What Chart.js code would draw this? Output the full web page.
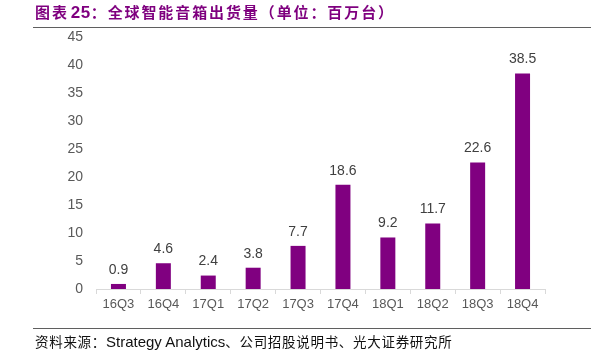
<!DOCTYPE html>
<html>
<head>
<meta charset="utf-8">
<script src="https://cdn.jsdelivr.net/npm/chart.js@4/dist/chart.umd.min.js"></script>
<style>
  html, body { margin: 0; padding: 0; background: #fff; }
  #wrap { position: relative; width: 610px; height: 355px; overflow: hidden; }
  #c { position: absolute; left: 0; top: 0; }
  .title { position: absolute; left: 35px; top: 3px; font-family: "Noto Sans CJK SC", sans-serif; font-weight: bold; font-size: 15px; letter-spacing: 1.9px; color: #7f007f; white-space: nowrap; line-height: 18px; }
  .title .lat { font-family: "Liberation Sans", Arial, sans-serif; font-size: 17px; letter-spacing: 0.5px; margin-left: 2px; }
  .rule { position: absolute; left: 33px; width: 558px; height: 0; border-top: 1.5px solid #5f5f5f; }
  .src { position: absolute; left: 35px; top: 332px; font-family: "Noto Sans CJK SC", sans-serif; font-size: 13.5px; letter-spacing: 0.7px; color: #111; white-space: nowrap; line-height: 18px; }
  .src .lat { font-family: "Liberation Sans", Arial, sans-serif; font-size: 15px; letter-spacing: 0; }
</style>
</head>
<body>
<div id="wrap">
  <canvas id="c" width="610" height="355"></canvas>
  <div class="title">图表<span class="lat">25</span>：全球智能音箱出货量（单位：百万台）</div>
  <div class="rule" style="top:27px"></div>
  <div class="rule" style="top:328px"></div>
  <div class="src">资料来源：<span class="lat">Strategy Analytics</span>、公司招股说明书、光大证券研究所</div>
</div>
<script>
const categories = ["16Q3", "16Q4", "17Q1", "17Q2", "17Q3", "17Q4", "18Q1", "18Q2", "18Q3", "18Q4"];
const shipments = [0.9, 4.6, 2.4, 3.8, 7.7, 18.6, 9.2, 11.7, 22.6, 38.5];
const yTicks = [0, 5, 10, 15, 20, 25, 30, 35, 40, 45];

const valueLabels = {
  id: 'valueLabels',
  afterDatasetsDraw(chart) {
    const ctx = chart.ctx;
    const meta = chart.getDatasetMeta(0);
    ctx.save();
    ctx.font = '14px "Liberation Sans", Arial, sans-serif';
    ctx.fillStyle = '#404040';
    ctx.textAlign = 'center';
    ctx.textBaseline = 'bottom';
    meta.data.forEach((bar, i) => {
      ctx.fillText(String(shipments[i]), bar.x, bar.y - 7);
    });
    ctx.restore();
  }
};

Chart.defaults.font.family = '"Liberation Sans", Arial, sans-serif';

new Chart(document.getElementById('c'), {
  type: 'bar',
  data: {
    labels: categories,
    datasets: [{
      data: shipments,
      backgroundColor: '#800080',
      borderWidth: 0,
      categoryPercentage: 1.0,
      barPercentage: 0.334
    }]
  },
  options: {
    responsive: false,
    animation: false,
    devicePixelRatio: 1,
    layout: { padding: { left: 0, top: 37, right: 65, bottom: 38 } },
    plugins: { legend: { display: false }, tooltip: { enabled: false } },
    scales: {
      x: {
        grid: { display: true, drawOnChartArea: false, drawTicks: true, tickLength: 5, color: '#d9d9d9', offset: true, lineWidth: 1 },
        border: { display: true, color: '#d9d9d9', width: 1 },
        ticks: { color: '#595959', font: { size: 13 }, padding: 3, maxRotation: 0 },
        afterFit(scale) { scale.height = 28; }
      },
      y: {
        min: 0,
        max: 45,
        afterBuildTicks(scale) { scale.ticks = yTicks.map(v => ({ value: v })); },
        grid: { display: false, drawTicks: false },
        border: { display: false },
        ticks: { color: '#595959', font: { size: 14 }, padding: 13 },
        afterFit(scale) { scale.width = 96; }
      }
    }
  },
  plugins: [valueLabels]
});
</script>
</body>
</html>
